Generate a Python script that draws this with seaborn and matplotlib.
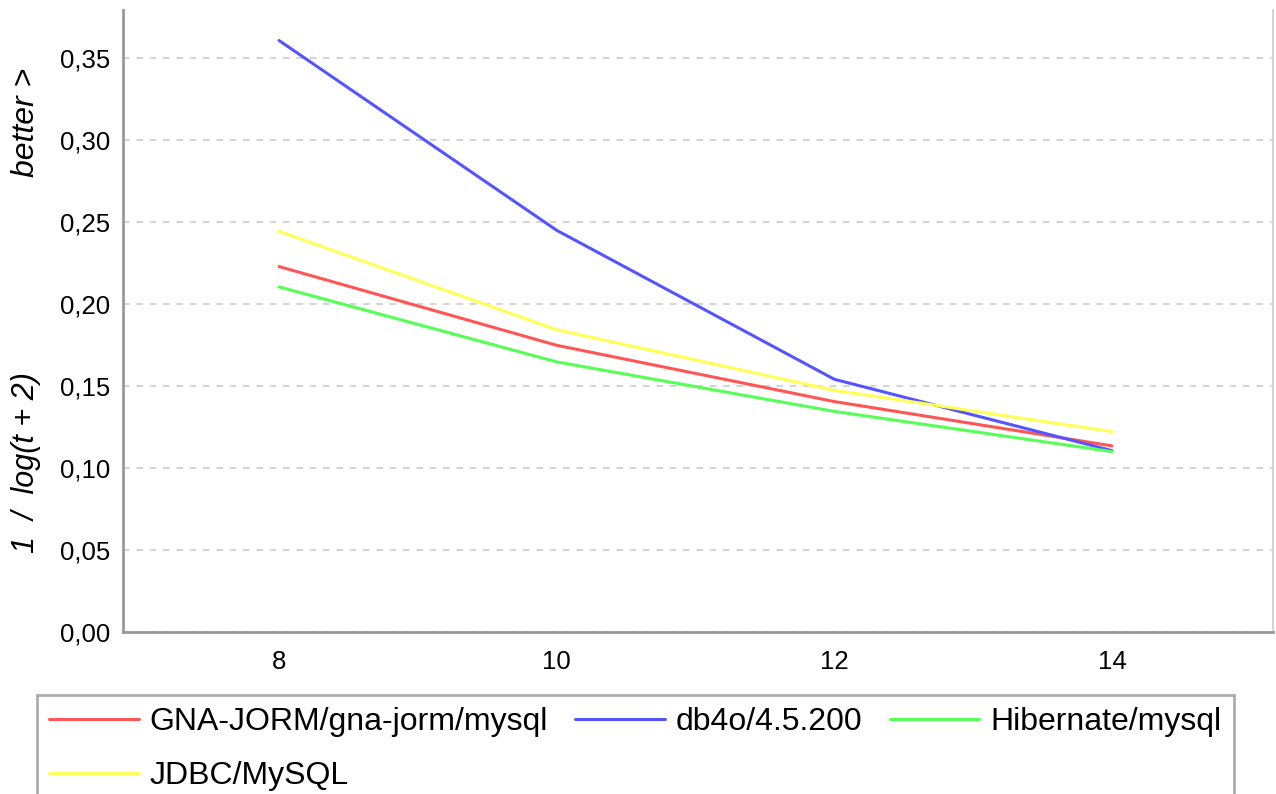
import pandas as pd
import matplotlib
matplotlib.use("Agg")
import matplotlib.pyplot as plt
import seaborn as sns

# values
sizes = [8, 10, 12, 14]
gna_jorm = [0.2226, 0.1746, 0.1403, 0.1133]
db4o = [0.3604, 0.2447, 0.1539, 0.1104]
hibernate = [0.2102, 0.1645, 0.1343, 0.1098]
jdbc = [0.2441, 0.1841, 0.1472, 0.1220]

series_names = ["GNA-JORM/gna-jorm/mysql", "db4o/4.5.200", "Hibernate/mysql", "JDBC/MySQL"]
series_colors = ["#FF5555", "#5555FF", "#55FF55", "#FFFF55"]

ytick_values = [0.00, 0.05, 0.10, 0.15, 0.20, 0.25, 0.30, 0.35]
ytick_labels = ["0,00", "0,05", "0,10", "0,15", "0,20", "0,25", "0,30", "0,35"]

# long form table for seaborn
df = pd.concat([
    pd.DataFrame({"size": sizes, "score": vals, "system": name})
    for name, vals in zip(series_names, [gna_jorm, db4o, hibernate, jdbc])
])

sns.set_style("white")
plt.rcParams['font.family'] = ['Liberation Sans', 'DejaVu Sans']
plt.rcParams['text.color'] = 'black'
plt.rcParams['xtick.color'] = 'black'
plt.rcParams['ytick.color'] = 'black'

fig = plt.figure(figsize=(12.76, 7.94), dpi=100)
ax = fig.add_axes([0.0962, 0.2044, 0.9014, 0.783])

sns.lineplot(
    data=df, x="size", y="score", hue="system",
    palette=dict(zip(series_names, series_colors)),
    hue_order=series_names, linewidth=2.2, ax=ax, legend=False
)

ax.set_xlim(6.874, 15.16)
ax.set_ylim(0, 0.379)
ax.set_xticks(sizes)
ax.set_xticklabels([str(s) for s in sizes])
ax.set_yticks(ytick_values, ytick_labels)
ax.tick_params(axis="y", length=5, width=1.2, color="#999999", labelcolor="black",
               labelsize=18.5, pad=4)
ax.tick_params(axis="x", length=0, labelsize=18.5, labelcolor="black", pad=13)
ax.set_xlabel("")
ax.set_ylabel("")

ax.grid(axis="y", color="#CCCCCC", linestyle=(0, (4, 4)), linewidth=1.2)
ax.grid(axis="x", visible=False)
ax.set_axisbelow(True)

for side in ["left", "bottom"]:
    ax.spines[side].set_color("#999999")
    ax.spines[side].set_linewidth(2)
ax.spines["top"].set_visible(False)
ax.spines["right"].set_color("#CCCCCC")
ax.spines["right"].set_linewidth(1.2)

# y axis titles
fig.text(0.020, 1 - 463 / 794, "1  /  log(t + 2)", rotation=90, fontsize=22,
         style="italic", ha="center", va="center")
fig.text(0.020, 1 - 122 / 794, "better >", rotation=90, fontsize=23,
         style="italic", ha="center", va="center")

# legend fills by column, so order the entries to read row-wise like the reference
order = [0, 3, 1, 2]
handles = [plt.Line2D([], [], color=series_colors[i], linewidth=2.2) for i in order]
labels = [series_names[i] for i in order]
leg = fig.legend(
    handles, labels, loc="upper left",
    bbox_to_anchor=(37 / 1276, 1 - 695 / 794), ncol=3,
    fontsize=23, frameon=True, fancybox=False,
    handlelength=2.8, handletextpad=0.35, columnspacing=0.85,
    labelspacing=0.75, borderpad=0.38, borderaxespad=0
)
leg.get_frame().set_edgecolor("#999999")
leg.get_frame().set_linewidth(2)

fig.savefig("out.png", dpi=100)
